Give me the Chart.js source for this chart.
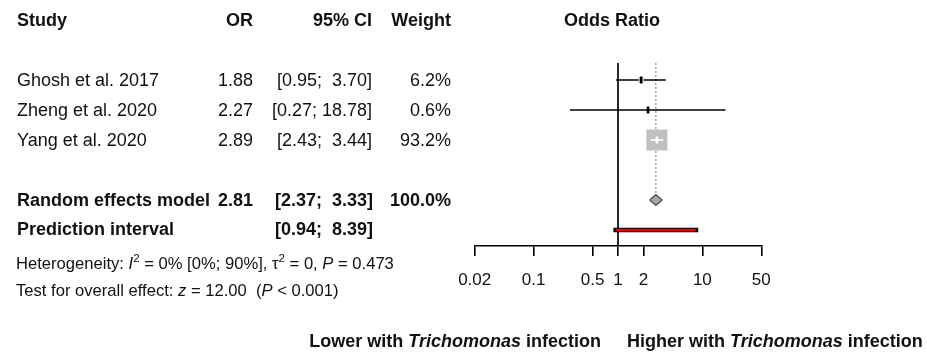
<!DOCTYPE html>
<html>
<head>
<meta charset="utf-8">
<script src="https://cdn.jsdelivr.net/npm/chart.js@4.4.1/dist/chart.umd.min.js"></script>
<style>
  body { margin: 0; background: #fff; }
  canvas { display: block; }
</style>
</head>
<body>
<canvas id="forest" width="927" height="352"></canvas>
<script>
// datos del forest plot
const studies = ['Ghosh et al. 2017', 'Zheng et al. 2020', 'Yang et al. 2020'];
const orVals = [1.88, 2.27, 2.89];
const ciLow = [0.95, 0.27, 2.43];
const ciHigh = [3.70, 18.78, 3.44];
const weights = [6.2, 0.6, 93.2];
const pooledOR = 2.81;
const pooledCI = [2.37, 3.33];
const pooledWeight = 100.0;
const predCI = [0.94, 8.39];
const tickVals = [0.02, 0.1, 0.5, 1, 2, 10, 50];

const FONT = "'Liberation Sans', Arial, sans-serif";
const TXT = '#111';

// filas (1 fila = 30 px)
const studyRows = [2, 3, 4];
const pooledRow = 6;
const predRow = 7;
const topRow = 1.43;
const yMax = 7.5333;
const diamondH = 0.18;
const rowY = (r) => 20 + 30 * r;

Chart.defaults.font.family = FONT;

function seg(data, color, width, order, extra) {
  return Object.assign({
    data: data,
    showLine: true,
    borderColor: color,
    borderWidth: width,
    pointRadius: 0,
    pointHoverRadius: 0,
    fill: false,
    order: order,
  }, extra || {});
}

const maxW = Math.max(...weights);
const datasets = [];

// línea de no efecto (OR = 1)
datasets.push(seg([{ x: 1, y: topRow }, { x: 1, y: yMax }], '#000', 1.7, 20));
// línea punteada del efecto combinado
datasets.push(seg([{ x: pooledOR, y: topRow }, { x: pooledOR, y: pooledRow - diamondH }], '#8c8c8c', 1.2, 19, { borderDash: [2, 2] }));

// intervalos de confianza de cada estudio
studies.forEach((s, i) => {
  datasets.push(seg([{ x: ciLow[i], y: studyRows[i] }, { x: ciHigh[i], y: studyRows[i] }], '#000', 1.7, 15));
});

// cuadrados proporcionales al peso
datasets.push({
  data: orVals.map((v, i) => ({ x: v, y: studyRows[i] })),
  showLine: false,
  pointStyle: 'rect',
  pointRadius: weights.map((w) => (21 * Math.sqrt(w / maxW)) / Math.SQRT2),
  pointHoverRadius: weights.map((w) => (21 * Math.sqrt(w / maxW)) / Math.SQRT2),
  backgroundColor: '#c0c0c0',
  borderColor: '#c0c0c0',
  borderWidth: 0,
  order: 10,
});

// IC en blanco dentro del cuadrado grande
studies.forEach((s, i) => {
  if (weights[i] > 50) {
    datasets.push(seg([{ x: ciLow[i], y: studyRows[i] }, { x: ciHigh[i], y: studyRows[i] }], '#fff', 1.5, 8));
  }
});

// marca del estimador puntual
datasets.push({
  data: orVals.map((v, i) => ({ x: v, y: studyRows[i] })),
  showLine: false,
  pointStyle: 'line',
  rotation: 90,
  pointRadius: 3.5,
  pointHoverRadius: 3.5,
  pointBorderWidth: 2.6,
  pointBorderColor: weights.map((w) => (w > 50 ? '#fff' : '#000')),
  order: 6,
});

// diamante del modelo de efectos aleatorios
datasets.push(seg([
  { x: pooledCI[0], y: pooledRow },
  { x: pooledOR, y: pooledRow - diamondH },
  { x: pooledCI[1], y: pooledRow },
  { x: pooledOR, y: pooledRow + diamondH },
  { x: pooledCI[0], y: pooledRow },
], '#555', 1.4, 5, { fill: 'shape', backgroundColor: '#a8a8a8' }));

// intervalo de predicción
datasets.push(seg([{ x: predCI[0], y: predRow }, { x: predCI[1], y: predRow }], '#000', 4.6, 3, { borderCapStyle: 'square' }));
datasets.push(seg([{ x: predCI[0], y: predRow }, { x: predCI[1], y: predRow }], '#e00000', 2.4, 2));

// texto con estilos mezclados
function richWidth(ctx, parts, size) {
  let w = 0;
  parts.forEach((p) => {
    const fs = p.sup ? size * 0.7 : size;
    ctx.font = `${p.italic ? 'italic ' : ''}${p.bold ? 'bold ' : ''}${fs}px ${FONT}`;
    w += ctx.measureText(p.t).width;
  });
  return w;
}

function drawRich(ctx, parts, x, y, size, align) {
  let cx = align === 'right' ? x - richWidth(ctx, parts, size) : x;
  ctx.textAlign = 'left';
  parts.forEach((p) => {
    const fs = p.sup ? size * 0.7 : size;
    ctx.font = `${p.italic ? 'italic ' : ''}${p.bold ? 'bold ' : ''}${fs}px ${FONT}`;
    ctx.fillText(p.t, cx, p.sup ? y - size * 0.42 : y);
    cx += ctx.measureText(p.t).width;
  });
}

function txt(ctx, t, x, cy, size, bold, align) {
  ctx.font = `${bold ? 'bold ' : ''}${size}px ${FONT}`;
  ctx.textAlign = align;
  ctx.fillText(t, x, cy + size * 0.358);
}

const fmtCI = (lo, hi) => `[${lo.toFixed(2)}; ${hi.toFixed(2).padStart(5, ' ')}]`;

const tablePlugin = {
  id: 'tabla',
  afterDraw(chart) {
    const ctx = chart.ctx;
    ctx.save();
    ctx.fillStyle = TXT;
    ctx.textBaseline = 'alphabetic';
    const colStudy = 17, colOR = 253, colCI = 372, colW = 451;

    // encabezados
    const hy = rowY(0);
    txt(ctx, 'Study', colStudy, hy, 18, true, 'left');
    txt(ctx, 'OR', colOR, hy, 18, true, 'right');
    txt(ctx, '95% CI', colCI, hy, 18, true, 'right');
    txt(ctx, 'Weight', colW, hy, 18, true, 'right');
    txt(ctx, 'Odds Ratio', 612, hy, 18, true, 'center');

    // estudios
    studies.forEach((s, i) => {
      const y = rowY(studyRows[i]);
      txt(ctx, s, colStudy, y, 18, false, 'left');
      txt(ctx, orVals[i].toFixed(2), colOR, y, 18, false, 'right');
      txt(ctx, fmtCI(ciLow[i], ciHigh[i]), colCI, y, 18, false, 'right');
      txt(ctx, weights[i].toFixed(1) + '%', colW, y, 18, false, 'right');
    });

    // modelo combinado
    const py = rowY(pooledRow);
    txt(ctx, 'Random effects model', colStudy, py, 18, true, 'left');
    txt(ctx, pooledOR.toFixed(2), colOR, py, 18, true, 'right');
    txt(ctx, fmtCI(pooledCI[0], pooledCI[1]), colCI + 1, py, 18, true, 'right');
    txt(ctx, pooledWeight.toFixed(1) + '%', colW, py, 18, true, 'right');

    const qy = rowY(predRow) - 1;
    txt(ctx, 'Prediction interval', colStudy, qy, 18, true, 'left');
    txt(ctx, fmtCI(predCI[0], predCI[1]), colCI + 1, qy, 18, true, 'right');

    // heterogeneidad y prueba global
    drawRich(ctx, [
      { t: 'Heterogeneity: ' },
      { t: 'I', italic: true },
      { t: '2', sup: true },
      { t: ' = 0% [0%; 90%], ' },
      { t: 'τ' },
      { t: '2', sup: true },
      { t: ' = 0, ' },
      { t: 'P', italic: true },
      { t: ' = 0.473' },
    ], 16, 263 + 6, 16.6, 'left');
    drawRich(ctx, [
      { t: 'Test for overall effect: ' },
      { t: 'z', italic: true },
      { t: ' = 12.00  (' },
      { t: 'P', italic: true },
      { t: ' < 0.001)' },
    ], 16, 290 + 6, 16.6, 'left');

    // etiquetas inferiores
    drawRich(ctx, [
      { t: 'Lower with ', bold: true },
      { t: 'Trichomonas', bold: true, italic: true },
      { t: ' infection', bold: true },
    ], 601, 341 + 6.4, 18, 'right');
    drawRich(ctx, [
      { t: 'Higher with ', bold: true },
      { t: 'Trichomonas', bold: true, italic: true },
      { t: ' infection', bold: true },
    ], 627, 341 + 6.4, 18, 'left');

    ctx.restore();
  },
};

new Chart(document.getElementById('forest').getContext('2d'), {
  type: 'scatter',
  data: { datasets: datasets },
  options: {
    responsive: false,
    animation: false,
    devicePixelRatio: 1,
    layout: { padding: { left: 474.7, right: 165.7, top: 20, bottom: 54 } },
    plugins: { legend: { display: false }, tooltip: { enabled: false } },
    scales: {
      x: {
        type: 'logarithmic',
        position: 'bottom',
        min: 0.02,
        max: 50,
        afterBuildTicks: (scale) => {
          scale.ticks = tickVals.map((v) => ({ value: v }));
        },
        afterFit: (scale) => {
          scale.height = 52;
        },
        ticks: {
          autoSkip: false,
          maxRotation: 0,
          padding: 14,
          color: TXT,
          font: { size: 17 },
          callback: (value) => String(value),
        },
        grid: { drawOnChartArea: false, drawTicks: true, tickLength: 10, color: '#000', lineWidth: 1.6 },
        border: { display: true, color: '#000', width: 1.6 },
      },
      y: {
        type: 'linear',
        display: false,
        reverse: true,
        min: 0,
        max: yMax,
      },
    },
  },
  plugins: [tablePlugin],
});
</script>
</body>
</html>
